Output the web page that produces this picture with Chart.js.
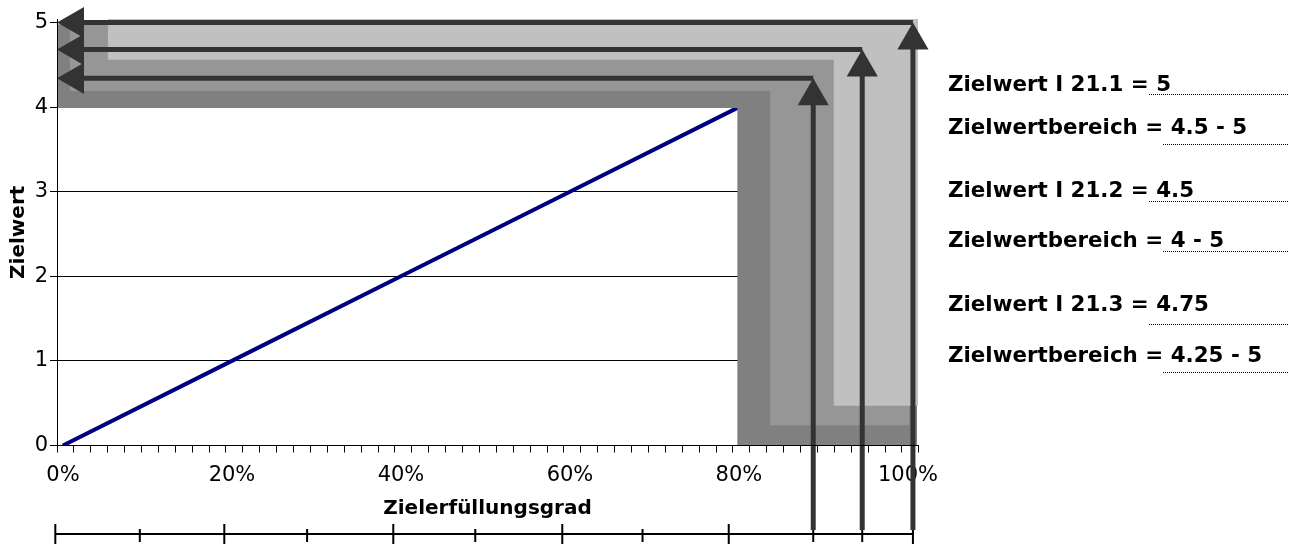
<!DOCTYPE html>
<html>
<head>
<meta charset="utf-8">
<script src="https://cdn.jsdelivr.net/npm/chart.js@4.4.1/dist/chart.umd.min.js"></script>
<style>
  html, body { margin: 0; padding: 0; background: #fff; }
  #wrap { position: relative; width: 1295px; height: 544px; }
  #wrap canvas { position: absolute; left: 0; top: 0; }
  .note {
    position: absolute; left: 948px; width: 340px; display: flex;
    font: bold 21.4px 'DejaVu Sans', sans-serif; line-height: 1;
    white-space: pre; color: #000;
  }
  .note .val { flex: 1; border-bottom: 1px dotted #000; }
</style>
</head>
<body>
<div id="wrap">
  <canvas id="ziel"></canvas>
</div>
<script>
// Zielerfüllungsgrad (%) -> Zielwert
const gradPct = [0, 20, 40, 60, 80];
const zielwert = [0, 1, 2, 3, 4];

// axis ticks
const yTicks = [0, 1, 2, 3, 4, 5];
const xLabels = ['0%', '20%', '40%', '60%', '80%', '100%'];

// grey target ranges (dark, middle, light) as L shapes
const bandLeft = [-0.7, 0.8, 5.3];      // horizontal arm starts (%)
const bandBottom = [3.99, 4.19, 4.56];  // lower edge of horizontal arm
const bandTop = [4.98, 4.98, 5.04];
const bandCorner = [79.8, 83.7, 91.2];  // vertical arm starts (%)
const bandRight = [101.1, 100.2, 101.3];
const bandFloor = [0, 0.24, 0.47];      // lower end of vertical arm

// arrows: corner of each arrow pair (%, Zielwert)
const arrowPct = [88.8, 94.6, 100.6];
const arrowZiel = [4.34, 4.68, 5.0];

// ruler under the axis (%)
const rulerMajor = [-0.9, 19.1, 39.1, 59.1, 78.8, 100.6];
const rulerMinor = [9.1, 28.9, 48.8, 68.6, 88.8, 94.6];

// text on the right
const noteLabels = ['Zielwert I 21.1 =', 'Zielwertbereich =', 'Zielwert I 21.2 =',
                    'Zielwertbereich =', 'Zielwert I 21.3 =', 'Zielwertbereich ='];
const noteValues = [' 5', ' 4.5 - 5', ' 4.5', ' 4 - 5', ' 4.75', ' 4.25 - 5'];

// layout bits
const X_MIN = -0.7, X_MAX = 101.2, Y_MAX = 5.04;
const PX_X = 8.45, PX_Y = 84.6;        // px per % and per Zielwert unit
const HEAD = 18;                        // arrow head radius, px
const ARROW_FOOT = -1.0;
const RULER_Y = -1.046;
const MAJOR_TICK = [-0.928, -1.164];
const MINOR_TICK = [-0.987, -1.141];
const bandColors = ['#808080', '#969696', '#c0c0c0'];
const arrowColor = '#333333';
const noteTops = [72.5, 115.5, 179, 229, 292.5, 344];
const notePads = [0, 6.7, 0.4, 0.4, 9.7, 6.4];

const wrap = document.getElementById('wrap');
noteLabels.forEach((lab, i) => {
    const row = document.createElement('div');
    row.className = 'note';
    row.style.top = noteTops[i] + 'px';
    const a = document.createElement('span');
    a.textContent = lab;
    const b = document.createElement('span');
    b.className = 'val';
    b.textContent = noteValues[i];
    b.style.paddingBottom = notePads[i] + 'px';
    row.appendChild(a);
    row.appendChild(b);
    wrap.appendChild(row);
});

const xTickMarks = [];
for (let k = 0; k <= 50; k++) xTickMarks.push(X_MIN + 2 * k);
xTickMarks.push(X_MAX);

const datasets = [];

datasets.push({
    label: 'Zielwert',
    data: gradPct.map((p, i) => ({x: p, y: zielwert[i]})),
    borderColor: '#000080',
    borderWidth: 4,
    pointRadius: 0,
    fill: false,
    order: 10
});

// each band = horizontal arm + vertical arm
bandColors.forEach((col, i) => {
    const rect = (x0, x1, top, bottom) => ({
        data: [{x: x0, y: top}, {x: x1, y: top}],
        borderWidth: 0,
        borderColor: 'transparent',
        backgroundColor: col,
        pointRadius: 0,
        fill: {value: bottom},
        clip: false,
        order: 9 - i
    });
    datasets.push(rect(bandLeft[i], bandRight[i], bandTop[i], bandBottom[i]));
    datasets.push(rect(bandCorner[i], bandRight[i], bandTop[i], bandFloor[i]));
});

// ruler
const rulerPts = [{x: rulerMajor[0], y: RULER_Y}, {x: rulerMajor[rulerMajor.length - 1], y: RULER_Y}, {x: 0, y: null}];
rulerMajor.forEach(v => rulerPts.push({x: v, y: MAJOR_TICK[0]}, {x: v, y: MAJOR_TICK[1]}, {x: v, y: null}));
rulerMinor.forEach(v => rulerPts.push({x: v, y: MINOR_TICK[0]}, {x: v, y: MINOR_TICK[1]}, {x: v, y: null}));
datasets.push({
    data: rulerPts,
    borderColor: '#000',
    borderWidth: 2,
    pointRadius: 0,
    fill: false,
    clip: false,
    order: 3
});

// arrows
const arrow = (pts, rot) => ({
    data: pts,
    borderColor: arrowColor,
    borderWidth: 5,
    pointStyle: 'triangle',
    pointRadius: ctx => ctx.dataIndex === 1 ? HEAD : 0,
    pointRotation: rot,
    pointBackgroundColor: arrowColor,
    pointBorderWidth: 0,
    fill: false,
    clip: false,
    order: 1
});
arrowPct.forEach((p, i) => {
    datasets.push(arrow([{x: p, y: arrowZiel[i]}, {x: X_MIN + HEAD / PX_X, y: arrowZiel[i]}], 270));
    datasets.push(arrow([{x: p, y: ARROW_FOOT}, {x: p, y: arrowZiel[i] - HEAD / PX_Y}], 0));
});

Chart.defaults.font.family = "'DejaVu Sans', sans-serif";
Chart.defaults.color = '#000';

const ctx = document.getElementById('ziel').getContext('2d');

const zielChart = new Chart(ctx, {
    type: 'line',
    data: { datasets: datasets },
    options: {
        responsive: true,
        maintainAspectRatio: false,
        animation: false,
        events: [],
        layout: { padding: { top: 19.1, right: 377, bottom: 0, left: 0 } },
        plugins: {
            legend: { display: false },
            tooltip: { enabled: false }
        },
        scales: {
            x: {
                type: 'linear',
                min: X_MIN,
                max: X_MAX,
                afterBuildTicks: s => { s.ticks = xTickMarks.map(v => ({value: v})); },
                afterFit: s => { s.height = 98.5; },
                grid: { drawOnChartArea: false, color: '#000', tickLength: 7, lineWidth: 1 },
                border: { color: '#000', width: 1, z: 1 },
                ticks: {
                    autoSkip: false,
                    maxRotation: 0,
                    labelOffset: 6,
                    padding: 10,
                    color: '#000',
                    font: { size: 21 },
                    callback: (v, i) => (i % 10 === 0 && i / 10 < xLabels.length) ? xLabels[i / 10] : ''
                },
                title: {
                    display: true,
                    text: 'Zielerfüllungsgrad',
                    color: '#000',
                    font: { size: 20, weight: 'bold' },
                    padding: { top: 0, bottom: 23 }
                }
            },
            y: {
                type: 'linear',
                min: 0,
                max: Y_MAX,
                afterBuildTicks: s => { s.ticks = yTicks.map(v => ({value: v})); },
                afterFit: s => { s.width = 57; },
                grid: { color: '#000', tickLength: 7, lineWidth: 1 },
                border: { color: '#000', width: 1, z: 1 },
                ticks: { padding: 2, color: '#000', font: { size: 21 } },
                title: {
                    display: true,
                    text: 'Zielwert',
                    color: '#000',
                    font: { size: 20, weight: 'bold' },
                    padding: { top: 7, bottom: 0 }
                }
            }
        }
    }
});
</script>
</body>
</html>
